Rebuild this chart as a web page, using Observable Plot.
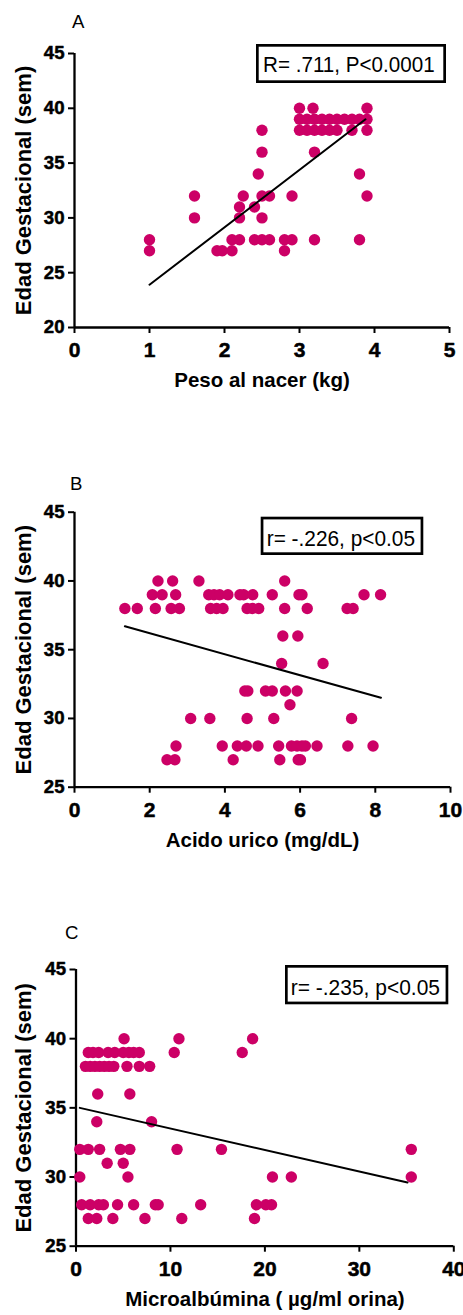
<!DOCTYPE html>
<html><head><meta charset="utf-8">
<script src="https://cdn.jsdelivr.net/npm/d3@7"></script>
<script src="https://cdn.jsdelivr.net/npm/@observablehq/plot@0.6"></script>
<style>
body{margin:0;background:#fff;}
#wrap{position:relative;width:463px;height:1315px;overflow:hidden;background:#fff;}
#wrap svg{position:absolute;left:0;}
</style></head><body><div id="wrap"></div>
<script>
const dotColor = "#CC0066";
const yTitle = "Edad Gestacional (sem)";

// ---- Panel A: Peso al nacer vs Edad gestacional ----
const pesoNacer = [1.0,1.0,1.6,1.6,1.9,1.97,2.1,2.1,2.2,2.2,2.2,2.25,2.4,2.4,2.45,2.5,2.5,2.5,2.5,2.5,2.6,2.6,2.8,2.8,2.9,2.9,3.2,3.2,3.8,3.8,3.9,
  3.0,3.18,3.9,
  3.0,3.1,3.2,3.3,3.4,3.5,3.6,3.7,3.8,3.9,
  3.0,3.1,3.2,3.3,3.4,3.5,3.7,3.9];
const edadA = [27,28,32,30,27,27,27,28,28,30,31,32,31,28,34,38,36,32,30,28,32,28,28,27,28,32,36,28,34,28,32,
  40,40,40,
  39,39,39,39,39,39,39,39,39,39,
  38,38,38,38,38,38,38,38];
const fitAx = [1.0, 3.88];
const fitAy = [23.9, 39.0];

// ---- Panel B: Acido urico vs Edad gestacional ----
const acidoUrico = [2.22,2.61,3.31,5.59,
  2.07,2.33,2.69,3.57,3.71,3.86,4.08,4.40,4.50,4.74,5.26,5.97,6.05,7.70,8.14,
  1.34,1.67,2.15,2.57,2.79,3.62,3.78,3.95,4.59,4.73,4.90,5.59,6.19,7.25,7.41,
  5.54,5.94,
  5.51,6.61,
  4.53,4.61,5.08,5.26,5.61,5.92,
  5.73,
  3.09,3.60,4.59,5.30,7.37,
  2.70,3.93,4.33,4.57,4.88,5.43,5.77,5.92,6.05,6.14,6.45,7.27,7.94,
  2.46,2.67,4.22,5.46,5.95,6.01];
const edadB = [40,40,40,40,
  39,39,39,39,39,39,39,39,39,39,39,39,39,39,39,
  38,38,38,38,38,38,38,38,38,38,38,38,38,38,38,
  36,36,
  34,34,
  32,32,32,32,32,32,
  31,
  30,30,30,30,30,
  28,28,28,28,28,28,28,28,28,28,28,28,28,
  27,27,27,27,27,27];
const fitBx = [1.34, 8.15];
const fitBy = [36.7, 31.5];

// ---- Panel C: Microalbumina vs Edad gestacional ----
const microalb = [5.09,10.9,18.7,
  1.3,1.8,2.4,3.4,4.1,5.0,5.6,6.1,6.7,10.4,17.6,
  1.0,1.5,2.0,2.5,3.0,3.5,4.0,5.4,6.7,7.8,
  2.3,5.7,
  2.2,8.0,
  0.4,1.3,2.5,4.7,5.7,10.7,15.4,35.5,
  3.3,5.0,
  0.4,5.5,20.8,22.8,35.5,
  0.6,1.5,2.4,2.9,4.4,6.1,8.4,8.7,13.2,19.1,20.1,20.7,
  1.3,2.2,3.9,7.3,11.2,18.9];
const edadC = [40,40,40,
  39,39,39,39,39,39,39,39,39,39,39,
  38,38,38,38,38,38,38,38,38,38,
  36,36,
  34,34,
  32,32,32,32,32,32,32,32,
  31,31,
  30,30,30,30,30,
  28,28,28,28,28,28,28,28,28,28,28,28,
  27,27,27,27,27,27];
const fitCx = [0.4, 35.1];
const fitCy = [35.0, 29.6];

const panels = [
  {top: 0, mt: 53, mb: 73, ml: 74, mr: 14, xDomain: [0,5], xTicks: [0,1,2,3,4,5], yDomain: [20,45], yTicks: [20,25,30,35,40,45],
   xs: pesoNacer, ys: edadA, fx: fitAx, fy: fitAy, xLabel: "Peso al nacer (kg)",
   letter: "A", lx: 72, ly: 28.3,
   stat: "R= .711, P<0.0001", bx: 256, by: 44, bw: 190, bh: 39, tx: 263, ty: 72.3, tl: 171.7},
  {top: 460, mt: 51.7, mb: 73.3, ml: 74, mr: 13, xDomain: [0,10], xTicks: [0,2,4,6,8,10], yDomain: [25,45], yTicks: [25,30,35,40,45],
   xs: acidoUrico, ys: edadB, fx: fitBx, fy: fitBy, xLabel: "Acido urico (mg/dL)",
   letter: "B", lx: 70, ly: 30,
   stat: "r= -.226, p<0.05", bx: 260.7, by: 56.7, bw: 162.6, bh: 38.3, tx: 266.7, ty: 86, tl: 148.3},
  {top: 915, mt: 54, mb: 69.3, ml: 75.5, mr: 9.7, xDomain: [0,40], xTicks: [0,10,20,30,40], yDomain: [25,45], yTicks: [25,30,35,40,45],
   xs: microalb, ys: edadC, fx: fitCx, fy: fitCy, xLabel: "Microalbúmina ( µg/ml orina)",
   letter: "C", lx: 65, ly: 24,
   stat: "r= -.235, p<0.05", bx: 285, by: 50, bw: 163.3, bh: 39.3, tx: 290.7, ty: 80, tl: 149.3}
];

const wrap = document.getElementById("wrap");
const FONT = "'Liberation Sans', Arial, Helvetica, sans-serif";

for (const p of panels) {
  const pts = p.xs.map((x, i) => ({x, y: p.ys[i]}));
  const fit = p.fx.map((x, i) => ({x, y: p.fy[i]}));
  const svg = Plot.plot({
    width: 463, height: 400,
    marginTop: p.mt, marginBottom: p.mb, marginLeft: p.ml, marginRight: p.mr,
    style: {fontFamily: FONT, background: "transparent", overflow: "visible", color: "black"},
    x: {domain: p.xDomain},
    y: {domain: p.yDomain},
    marks: [
      Plot.ruleX([p.xDomain[0]], {stroke: "black", strokeWidth: 2.3}),
      Plot.ruleY([p.yDomain[0]], {stroke: "black", strokeWidth: 2.3}),
      Plot.axisX({ticks: p.xTicks, tickFormat: () => "", tickSize: 6, strokeWidth: 2, label: null}),
      Plot.axisY({ticks: p.yTicks, tickFormat: () => "", tickSize: 6, strokeWidth: 2, label: null}),
      Plot.text(p.xTicks, {x: d => d, frameAnchor: "bottom", textAnchor: "middle", lineAnchor: "top", dy: 14.5,
        text: d => String(d), fontSize: 21, fontWeight: "bold", fill: "black", stroke: "black", strokeWidth: 0.5}),
      Plot.text(p.yTicks, {y: d => d, frameAnchor: "left", textAnchor: "end", lineAnchor: "middle", dx: -10,
        text: d => String(d), fontSize: 18.6, fontWeight: "bold", fill: "black", stroke: "black", strokeWidth: 0.5}),
      Plot.dot(pts, {x: "x", y: "y", r: 5.7, fill: dotColor, stroke: null}),
      Plot.line(fit, {x: "x", y: "y", stroke: "black", strokeWidth: 2}),
      Plot.text([p.xLabel], {frameAnchor: "bottom", textAnchor: "middle", dy: 53, lineAnchor: "middle", fontSize: 20.5, fontWeight: "bold", fill: "black"}),
      Plot.text([yTitle], {frameAnchor: "left", textAnchor: "middle", rotate: -90, dx: 23 - p.ml, lineAnchor: "middle", fontSize: 22, fontWeight: "bold", fill: "black"})
    ]
  });
  svg.style.top = p.top + "px";
  const s = d3.select(svg);
  s.append("text").attr("x", p.lx).attr("y", p.ly)
    .attr("style", `font-family:${FONT};font-size:18.6px;font-weight:normal;text-anchor:start;fill:black`)
    .text(p.letter);
  const sw = 2.7;
  s.append("rect").attr("x", p.bx + sw/2).attr("y", p.by + sw/2)
    .attr("width", p.bw - sw).attr("height", p.bh - sw)
    .attr("fill", "white").attr("stroke", "black").attr("stroke-width", sw);
  s.append("text").attr("x", p.tx).attr("y", p.ty)
    .attr("style", `font-family:${FONT};font-size:22px;font-weight:normal;text-anchor:start;fill:black`)
    .attr("textLength", p.tl).attr("lengthAdjust", "spacingAndGlyphs").text(p.stat);
  wrap.appendChild(svg);
}
</script></body></html>
